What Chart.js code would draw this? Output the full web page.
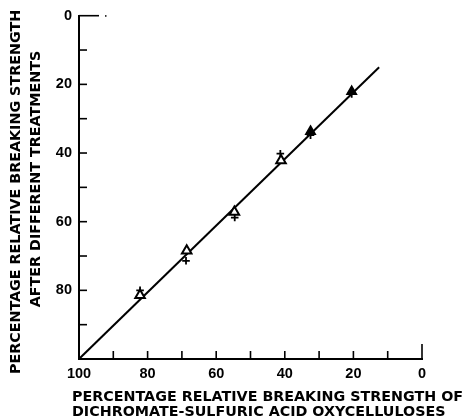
<!DOCTYPE html>
<html><head><meta charset="utf-8">
<script src="https://cdn.jsdelivr.net/npm/chart.js@4"></script>
<style>html,body{margin:0;padding:0;background:#fff}#wrap{width:464px;height:420px;position:relative}</style>
</head><body><div id="wrap"><canvas id="c" width="464" height="420"></canvas></div>
<script>
// ---- data ----
const lineX = [100, 12.5];
const lineY = [100, 15];
const openTriX = [82.2, 68.6, 54.7, 41.1];
const openTriY = [81.4, 68.5, 57.2, 42.2];
const filledTriX = [32.5, 20.5];
const filledTriY = [33.7, 22.1];
const plusX = [82.2, 68.8, 54.6, 41.3, 32.5, 20.5];
const plusY = [80.0, 71.4, 58.8, 40.2, 34.8, 22.8];
const xTickValues = [100, 80, 60, 40, 20, 0];
const yTickValues = [0, 20, 40, 60, 80];
const minorTickValues = [0, 10, 20, 30, 40, 50, 60, 70, 80, 90];
const xTitle = ["PERCENTAGE RELATIVE BREAKING STRENGTH OF", "DICHROMATE-SULFURIC ACID OXYCELLULOSES"];
const yTitle = ["PERCENTAGE RELATIVE BREAKING STRENGTH", "AFTER DIFFERENT TREATMENTS"];

const pts = (xs, ys) => xs.map((x, i) => ({x: x, y: ys[i]}));
const tickFont = {family: "'Liberation Sans', Arial, sans-serif", weight: 'bold', size: 14.5};
const titleFont = "bold 14.3px 'DejaVu Sans', sans-serif";

const decor = {
  id: 'decor',
  afterDraw(chart) {
    const ctx = chart.ctx, xs = chart.scales.x, ys = chart.scales.y;
    const left = chart.chartArea.left, bottom = chart.chartArea.bottom;
    ctx.save();
    ctx.strokeStyle = '#000';
    ctx.lineWidth = 1.6;
    minorTickValues.forEach(v => {
      const py = ys.getPixelForValue(v);
      const len = v === 0 ? 20 : 8;
      ctx.beginPath(); ctx.moveTo(left, py); ctx.lineTo(left + len, py); ctx.stroke();
      const px = xs.getPixelForValue(v);
      const lx = v === 0 ? 15 : 8;
      ctx.beginPath(); ctx.moveTo(px, bottom); ctx.lineTo(px, bottom - lx); ctx.stroke();
    });
    // dotted continuation of the top tick
    const p0 = ys.getPixelForValue(0);
    ctx.fillStyle = '#000';
    ctx.fillRect(left + 26, p0 - 0.5, 1.5, 1.5);
    ctx.font = titleFont;
    ctx.textBaseline = 'middle';
    ctx.textAlign = 'left';
    ctx.fillText(xTitle[0], 72, 397);
    ctx.fillText(xTitle[1], 72, 412);
    ctx.textAlign = 'center';
    ctx.save(); ctx.translate(16.5, 192); ctx.rotate(-Math.PI / 2); ctx.fillText(yTitle[0], 0, 0); ctx.restore();
    ctx.save(); ctx.translate(36, 179); ctx.rotate(-Math.PI / 2); ctx.fillText(yTitle[1], 0, 0); ctx.restore();
    ctx.restore();
  }
};

new Chart(document.getElementById('c'), {
  type: 'scatter',
  data: {
    datasets: [
      {data: pts(filledTriX, filledTriY), pointStyle: 'triangle', pointRadius: 5.5, borderWidth: 1.5, borderColor: '#000', backgroundColor: '#000'},
      {data: pts(openTriX, openTriY), pointStyle: 'triangle', pointRadius: 5.5, borderWidth: 2, borderColor: '#000', backgroundColor: '#fff'},
      {data: pts(plusX, plusY), pointStyle: 'cross', pointRadius: 3.8, borderWidth: 1.8, borderColor: '#000'},
      {data: pts(lineX, lineY), showLine: true, borderColor: '#000', borderWidth: 2, pointRadius: 0}
    ]
  },
  options: {
    responsive: false, animation: false, devicePixelRatio: 1,
    layout: {padding: {left: 0, right: 42, top: 15, bottom: 0}},
    plugins: {legend: {display: false}, tooltip: {enabled: false}},
    events: [],
    scales: {
      x: {
        type: 'linear', min: 0, max: 100, reverse: true, position: 'bottom',
        afterFit: s => { s.height = 61; },
        afterBuildTicks: s => { s.ticks = xTickValues.map(v => ({value: v})); },
        ticks: {font: tickFont, color: '#000', padding: 6, maxRotation: 0, autoSkip: false},
        grid: {display: false, drawTicks: false},
        border: {display: true, color: '#000', width: 2}
      },
      y: {
        type: 'linear', min: 0, max: 100, reverse: true, position: 'left',
        afterFit: s => { s.width = 79; },
        afterBuildTicks: s => { s.ticks = yTickValues.map(v => ({value: v})); },
        ticks: {font: tickFont, color: '#000', padding: 7, autoSkip: false},
        grid: {display: false, drawTicks: false},
        border: {display: true, color: '#000', width: 2}
      }
    }
  },
  plugins: [decor]
});
</script>
</body></html>
